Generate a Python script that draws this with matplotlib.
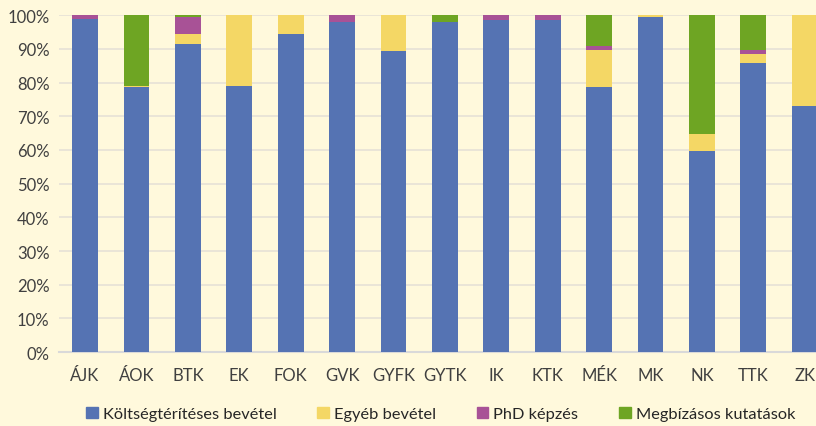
import matplotlib
matplotlib.use('Agg')
import matplotlib.pyplot as plt
from matplotlib.patches import Patch
import numpy as np

categories = ['ÁJK', 'ÁOK', 'BTK', 'EK', 'FOK', 'GVK', 'GYFK', 'GYTK', 'IK', 'KTK', 'MÉK', 'MK', 'NK', 'TTK', 'ZK']
koltseg = [98.9, 78.7, 91.4, 78.9, 94.4, 97.9, 89.3, 97.9, 98.5, 98.5, 78.6, 99.4, 59.6, 85.8, 73.0]
egyeb = [0.0, 0.3, 3.1, 21.1, 5.6, 0.0, 10.7, 0.0, 0.0, 0.0, 11.0, 0.6, 5.1, 2.6, 27.0]
phd = [1.1, 0.0, 4.9, 0.0, 0.0, 2.1, 0.0, 0.0, 1.5, 1.5, 1.2, 0.0, 0.0, 1.2, 0.0]
megbizas = [0.0, 21.0, 0.6, 0.0, 0.0, 0.0, 0.0, 2.1, 0.0, 0.0, 9.2, 0.0, 35.3, 10.4, 0.0]

series = [('Költségtérítéses bevétel', koltseg, '#5573B3'),
          ('Egyéb bevétel', egyeb, '#F4D765'),
          ('PhD képzés', phd, '#A85296'),
          ('Megbízásos kutatások', megbizas, '#6EA523')]

plt.rcParams['font.family'] = ['Lato', 'DejaVu Sans']
bg = '#FFF9DC'

fig = plt.figure(figsize=(8.16, 4.27), dpi=100, facecolor=bg)
ax = fig.add_axes([0.0727, 0.173, 0.945, 0.789], facecolor=bg)

x = np.arange(len(categories))
bottom = np.zeros(len(categories))
for name, vals, col in series:
    vals = np.array(vals)
    ax.bar(x, vals, width=0.5, bottom=bottom, color=col, zorder=3)
    bottom += vals

ax.set_xlim(-0.5, len(categories) - 0.5)
ax.set_ylim(0, 100)
ax.set_yticks(np.arange(0, 101, 10))
ax.set_yticklabels([f'{v}%' for v in range(0, 101, 10)])
ax.set_xticks(x)
ax.set_xticklabels(categories)
ax.grid(axis='y', color='#E6E2D6', linewidth=1.2, zorder=0)
for s in ['top', 'right', 'left']:
    ax.spines[s].set_visible(False)
ax.spines['bottom'].set_color('#D9D9D9')
ax.spines['bottom'].set_linewidth(1.5)
ax.tick_params(axis='both', length=0, colors='#404040', labelsize=12)
ax.tick_params(axis='x', pad=11)
ax.tick_params(axis='y', pad=7)

handles = [Patch(color=c, label=n) for n, v, c in series]
fig.legend(handles=handles, loc='center', bbox_to_anchor=(0.54, 0.028), ncol=4,
           frameon=False, fontsize=11.8, handlelength=0.7, handleheight=0.7,
           handletextpad=0.3, columnspacing=2.5, labelcolor='#262626')

fig.savefig('out.png', dpi=100, facecolor=bg)
